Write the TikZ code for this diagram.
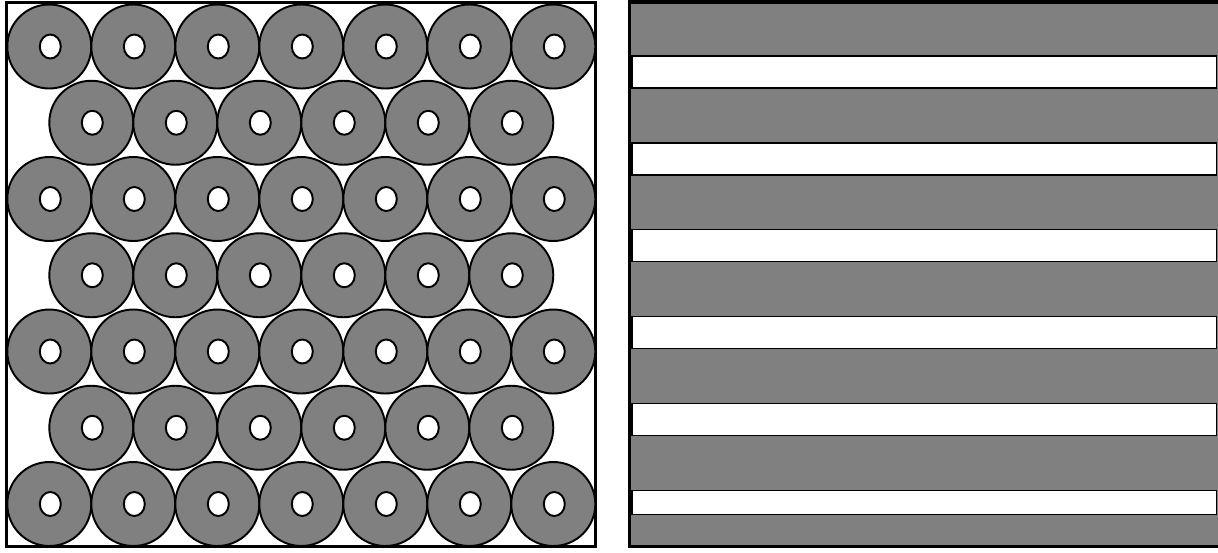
\documentclass[tikz,border=0pt]{standalone}
\usepackage{tikz}

\definecolor{ringgray}{RGB}{128,128,128}

\begin{document}
\begin{tikzpicture}[x=0.02cm,y=-0.02cm,
    ring/.style={fill=ringgray,draw=black,line width=1.1pt},
    hole/.style={fill=white,draw=black,line width=1.1pt},
    frame/.style={draw=black,line width=2pt},
    band/.style={fill=white,draw=black,line width=0.8pt}]
    \useasboundingbox (0,0) rectangle (1218,552);
    % left panel: packed rings
    \draw[frame] (6.5,2.5) rectangle (595.5,546.5);
    \foreach \r in {0,...,6}{
        \pgfmathsetmacro{\ry}{46.5+76.25*\r}
        \pgfmathtruncatemacro{\odd}{mod(\r,2)}
        \ifnum\odd=0
            \foreach \i in {0,...,6}{
                \draw[ring] (49.3+84*\i,\ry) circle (42);
                \draw[hole] (50.3+84*\i,\ry) ellipse (10.5 and 12);
            }
        \else
            \foreach \i in {0,...,5}{
                \draw[ring] (91.3+84*\i,\ry) circle (42);
                \draw[hole] (92.3+84*\i,\ry) ellipse (10.5 and 12);
            }
        \fi
    }
    % right panel: layered bands
    \fill[ringgray] (629.5,2) rectangle (1218,546.5);
    \foreach \k in {0,...,4}
        \draw[band] (632,56+86.8*\k) rectangle (1216.7,88+86.8*\k);
    \draw[band] (632,490.5) rectangle (1216.7,514.3);
    \draw[frame] (1220,2) -- (629.5,2) -- (629.5,546.5) -- (1220,546.5);
\end{tikzpicture}
\end{document}
